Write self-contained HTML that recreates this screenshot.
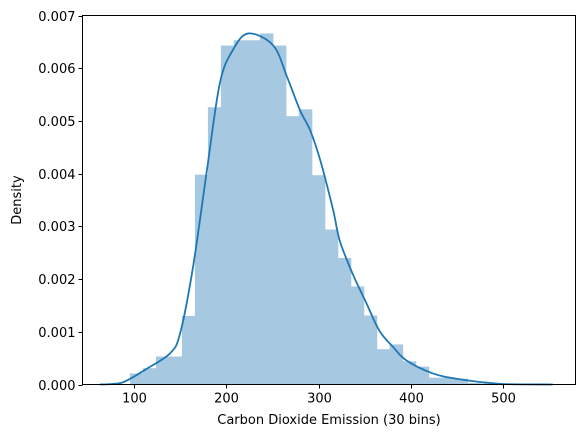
<!DOCTYPE html>
<html><head><meta charset="utf-8"><style>
body{margin:0;background:#fff;}
svg text{font-family:"DejaVu Sans","Liberation Sans",sans-serif;font-size:13px;fill:#000;}
</style></head><body>
<svg id="chart" width="584" height="438" xmlns="http://www.w3.org/2000/svg">
<g id="bars"></g>
<g id="kde"></g>
<g id="axes"></g>
</svg>
<script>
const binStart = 95.7;
const binWidth = 14.07;
const binDensities = [0.00021,0.00031,0.00053,0.00053,0.0013,0.00398,0.00526,0.00643,0.00653,0.00653,0.00666,0.00643,0.00509,0.00522,0.00397,0.00294,0.0024,0.00186,0.00131,0.00067,0.00076,0.00044,0.00034,0.00013,0.00013,0.00011,0.00003,0.00002,0.00001,0.00001];
const kdeX = [63,76,86,96,114,139,150,164,179,193,207,224,251,266,280,291,302,316,323,337,352,366,381,395,424,453,500,554];
const kdeY = [0,0.00001,0.00003,0.00011,0.0003,0.00059,0.00097,0.00223,0.00406,0.00571,0.00634,0.00666,0.00643,0.00583,0.0052,0.00482,0.00425,0.0033,0.00273,0.0021,0.00154,0.00102,0.00071,0.00046,0.00021,0.0001,0.00001,0];
const xTicks = [100,200,300,400,500];
const yTicks = [0,0.001,0.002,0.003,0.004,0.005,0.006,0.007];
const yTickLabels = ["0.000","0.001","0.002","0.003","0.004","0.005","0.006","0.007"];

const L=82.5,R=575.5,T=15.5,B=384.5;
const sx=v=>134+(v-100)*0.9225;
const sy=d=>B-(d/0.007)*(B-T);
const NS="http://www.w3.org/2000/svg";
function mk(tag,parent,attrs){const e=document.createElementNS(NS,tag);for(const k in attrs)e.setAttribute(k,attrs[k]);parent.appendChild(e);return e;}
const bars=document.getElementById('bars');
binDensities.forEach((d,i)=>{
  const x0=sx(binStart+i*binWidth),x1=sx(binStart+(i+1)*binWidth);
  const r=mk('rect',bars,{x:x0,y:sy(d),width:x1-x0+0.6,height:B-sy(d),fill:'#a6c8e0'});
  
  
});
const kde=document.getElementById('kde');
const pts=kdeX.map((v,i)=>[sx(v),Math.min(B,sy(kdeY[i]))]);
let dstr='M'+pts[0][0]+','+pts[0][1];
for(let i=0;i<pts.length-1;i++){
  const p0=pts[Math.max(0,i-1)],p1=pts[i],p2=pts[i+1],p3=pts[Math.min(pts.length-1,i+2)];
  const c1=[p1[0]+(p2[0]-p0[0])/6,Math.min(B,p1[1]+(p2[1]-p0[1])/6)],c2=[p2[0]-(p3[0]-p1[0])/6,Math.min(B,p2[1]-(p3[1]-p1[1])/6)];
  dstr+=` C${c1[0]},${c1[1]} ${c2[0]},${c2[1]} ${p2[0]},${p2[1]}`;
}
const kp=mk('path',kde,{d:dstr,fill:'none',stroke:'#1f77b4','stroke-width':1.8});


const ax=document.getElementById('axes');
const frame=mk('rect',ax,{x:L,y:T,width:R-L,height:B-T,fill:'none',stroke:'#000','stroke-width':1});


xTicks.forEach(v=>{
  const x=Math.round(sx(v))+0.5;
  mk('line',ax,{x1:x,x2:x,y1:B,y2:B+4,stroke:'#000'});
  const t=mk('text',ax,{x:x,y:B+18,'text-anchor':'middle'});t.textContent=v;
  
  
});
yTicks.forEach((v,i)=>{
  const y=Math.round(sy(v))+0.5;
  mk('line',ax,{x1:L-4,x2:L,y1:y,y2:y,stroke:'#000'});
  const t=mk('text',ax,{x:L-7,y:y+4.5,'text-anchor':'end'});t.textContent=yTickLabels[i];
  
  
});
const xt=mk('text',ax,{x:(L+R)/2,y:424,'text-anchor':'middle'});xt.textContent='Carbon Dioxide Emission (30 bins)';


const yt=mk('text',ax,{x:21,y:(T+B)/2,'text-anchor':'middle',transform:`rotate(-90 21 ${(T+B)/2})`});yt.textContent='Density';


</script>
</body></html>
